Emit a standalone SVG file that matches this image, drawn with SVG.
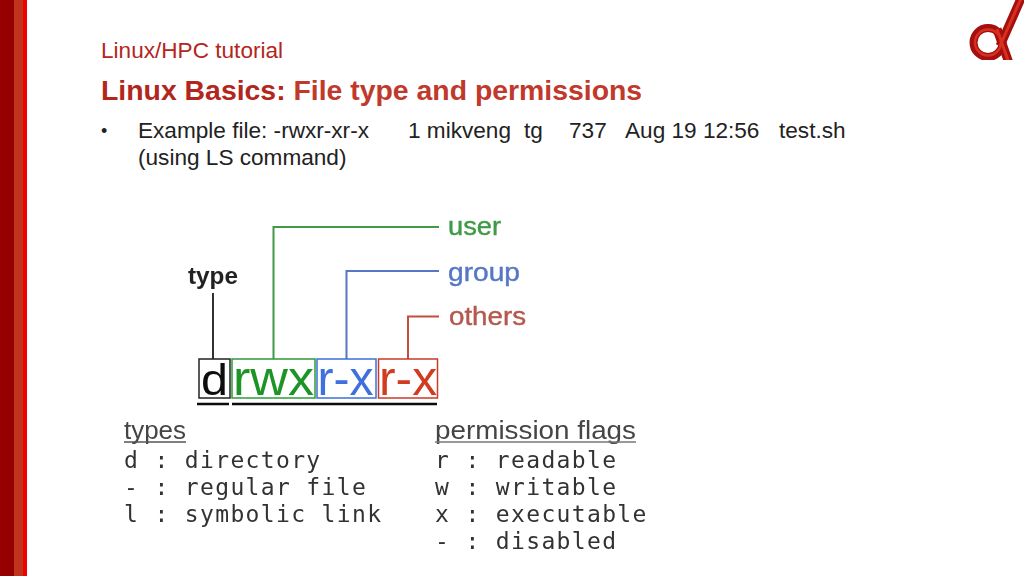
<svg xmlns="http://www.w3.org/2000/svg" width="1024" height="576" viewBox="0 0 1024 576">
<defs>
<filter id="soft" x="-5%" y="-5%" width="110%" height="110%"><feGaussianBlur stdDeviation="0.45"/></filter>
<clipPath id="logoclip"><rect x="960" y="0" width="64" height="60"/></clipPath>
</defs>
<style>
.s{font-family:"Liberation Sans",Arial,sans-serif}
.t{font-size:22.6px;fill:#222}
.m{font-family:"DejaVu Sans Mono","Liberation Mono",monospace;font-size:23px;fill:#333;letter-spacing:1.35px;white-space:pre}
.c{fill:none;stroke-width:2}
.h{font-size:25px;fill:#444}
.big{font-size:48px}
.l{font-size:25px}
.box{fill:none;stroke-width:1.5}
</style>
<rect width="1024" height="576" fill="#fff"/>
<rect x="0" y="0" width="14" height="576" fill="#960000"/>
<rect x="14" y="0" width="9" height="576" fill="#c0341c"/>
<rect x="23" y="0" width="4" height="576" fill="#f00000"/>
<g id="logo" fill="none" clip-path="url(#logoclip)">
<circle cx="988" cy="42.500" r="14.500" stroke="#a50f0f" stroke-width="8"/>
<path d="M1023 -6L1000 46M997 29L1010 66" stroke="#a50f0f" stroke-width="9"/>
<circle cx="988" cy="42.500" r="13" stroke="#d8301f" stroke-width="2.500"/>
<path d="M1023 -6L1000 46M997 29L1010 66" stroke="#d8301f" stroke-width="3"/>
</g>
<text class="s" x="101" y="58" font-size="22.6" fill="#b3261c">Linux/HPC tutorial</text>
<text class="s" x="101" y="100" font-size="28.4" font-weight="700" fill="#b3261c">Linux Basics: <tspan fill="#c0392b">File type and permissions</tspan></text>
<text class="s" x="101" y="137" font-size="18" fill="#222">•</text>
<text class="s t" x="138" y="138">Example file: -rwxr-xr-x</text>
<text class="s t" x="408" y="138">1 mikveng</text>
<text class="s t" x="524" y="138">tg</text>
<text class="s t" x="569" y="138">737</text>
<text class="s t" x="625" y="138">Aug 19 12:56</text>
<text class="s t" x="779" y="138">test.sh</text>
<text class="s t" x="138" y="165">(using LS command)</text>
<g id="connectors" filter="url(#soft)">
<path class="c" stroke="#333" d="M213 293V359"/>
<path class="c" stroke="#3f9a46" d="M273.500 359V227H439"/>
<path class="c" stroke="#5577c4" d="M346.500 359V271H439"/>
<path class="c" stroke="#c0503f" d="M408 359V316.500H439"/>
<path stroke="#111" stroke-width="2.500" d="M197 404H229M232 404H437"/>
</g>
<g id="type-label" filter="url(#soft)"><text class="s" x="188" y="283.500" font-size="23" font-weight="700" fill="#222" textLength="50" lengthAdjust="spacingAndGlyphs">type</text></g>
<g id="user-label" filter="url(#soft)"><text class="s l" x="448" y="234.500" fill="#3f9a46" stroke="#3f9a46" stroke-width=".4" textLength="53" lengthAdjust="spacingAndGlyphs">user</text></g>
<g id="group-label" filter="url(#soft)"><text class="s l" x="448" y="281" fill="#5577c4" stroke="#5577c4" stroke-width=".4" textLength="72" lengthAdjust="spacingAndGlyphs">group</text></g>
<g id="others-label" filter="url(#soft)"><text class="s l" x="449" y="324.500" fill="#b5584d" stroke="#b5584d" stroke-width=".4" textLength="77" lengthAdjust="spacingAndGlyphs">others</text></g>
<g id="type-box" filter="url(#soft)"><rect class="box" x="199" y="359" width="31" height="39" stroke="#222"/><text class="s" x="201" y="395" font-size="44" fill="#111" textLength="27" lengthAdjust="spacingAndGlyphs">d</text></g>
<g id="user-box" filter="url(#soft)"><rect class="box" x="232" y="359" width="83" height="39" stroke="#2f9a3a"/><text class="s big" x="233" y="395" fill="#1c9428" textLength="81" lengthAdjust="spacingAndGlyphs">rwx</text></g>
<g id="group-box" filter="url(#soft)"><rect class="box" x="317" y="359" width="59" height="39" stroke="#3f6fd8"/><text class="s big" x="317.500" y="395" fill="#3f6fe0" textLength="56" lengthAdjust="spacingAndGlyphs">r-x</text></g>
<g id="others-box" filter="url(#soft)"><rect class="box" x="378.500" y="359" width="59" height="39" stroke="#cc3a28"/><text class="s big" x="379" y="395" fill="#d23a20" textLength="58" lengthAdjust="spacingAndGlyphs">r-x</text></g>
<g id="types" filter="url(#soft)">
<text class="s h" x="124" y="438.500" textLength="62" lengthAdjust="spacingAndGlyphs">types</text>
<path d="M124 442H186" stroke="#555" stroke-width="1.500"/>
<text class="m" x="124" y="468">d : directory</text>
<text class="m" x="124" y="495">- : regular file</text>
<text class="m" x="124" y="522">l : symbolic link</text>
</g>
<g id="flags" filter="url(#soft)">
<text class="s h" x="435" y="438.500" textLength="201" lengthAdjust="spacingAndGlyphs">permission flags</text>
<path d="M435 442H636" stroke="#777" stroke-width="1.500"/>
<text class="m" x="435" y="468">r : readable</text>
<text class="m" x="435" y="495">w : writable</text>
<text class="m" x="435" y="522">x : executable</text>
<text class="m" x="435" y="549">- : disabled</text>
</g>
</svg>
